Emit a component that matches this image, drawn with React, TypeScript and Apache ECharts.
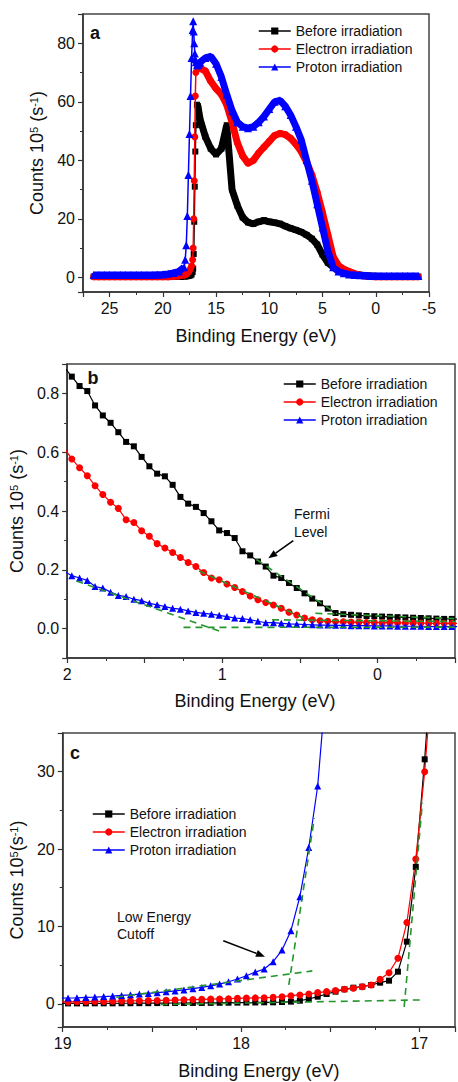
import React, { useEffect, useRef } from 'react';
import * as echarts from 'echarts';

const FONT = '"Liberation Sans", Arial, Helvetica, sans-serif';
const NAMES = ['Before irradiation', 'Electron irradiation', 'Proton irradiation'];
const COLORS = ['#000000', '#ff0000', '#0000ff'];
const SYMBOLS = ['rect', 'circle', 'triangle'];
const GREEN = '#23952a';

// ---------- Panel a : full spectrum ----------
const energyA = [26.5, 26, 25.5, 25, 24.5, 24, 23.5, 23, 22.5, 22, 21.5, 21, 20.5, 20, 19.5, 19, 18.5,
  18, 17.9, 17.8, 17.7, 17.6, 17.5, 17.4, 17.3, 17.2, 17.15, 17.1, 17.05, 17, 16.95, 16.9, 16.8, 16.7, 16.6, 16.5,
  16, 15.5, 15, 14.5, 14, 13.5, 13, 12.5, 12, 11.5, 11, 10.5, 10, 9.5, 9, 8.5, 8, 7.5, 7, 6.5, 6, 5.5, 5, 4.5, 4,
  3.5, 3, 2.5, 2, 1.5, 1, 0.5, 0, -0.5, -1, -1.5, -2, -2.5, -3, -3.5, -4];
const beforeA = [0.3, 0.3, 0.3, 0.3, 0.3, 0.3, 0.3, 0.3, 0.3, 0.3, 0.3, 0.3, 0.3, 0.3, 0.3, 0.3, 0.3,
  0.3, 0.3, 0.4, 0.4, 0.5, 0.6, 0.7, 1.0, 1.8, 3, 8, 19, 31, 43, 52, 59, 58.5, 56, 54,
  48, 44, 42, 44, 52, 30, 24.5, 20.5, 18.8, 18.3, 19, 19.5, 19, 18.7, 18.3, 17.5, 16.8, 16.2, 15.5, 14.5, 13.2,
  11.2, 7.8, 5, 3.5, 2.8, 2.2, 1.6, 1.1, 0.8, 0.6, 0.5, 0.4, 0.3, 0.3, 0.3, 0.3, 0.3, 0.3, 0.3, 0.3];
const electronA = [0.2, 0.2, 0.2, 0.2, 0.2, 0.2, 0.2, 0.2, 0.2, 0.2, 0.2, 0.2, 0.2, 0.2, 0.2, 0.3, 0.5,
  0.8, 0.9, 1.1, 1.4, 1.8, 2.3, 3, 4, 6, 10, 20, 33, 48, 62, 70, 73, 72.5, 72, 71.5,
  70.5, 67, 64.5, 62.5, 59, 53, 46, 41.5, 39, 40, 42.5, 44.5, 46.5, 48.5, 49.2, 48.8, 47.5, 45.5, 43, 39.5, 35,
  29, 22, 14.5, 7, 4, 2.8, 2, 1.3, 0.8, 0.5, 0.3, 0.2, 0.2, 0.2, 0.2, 0.2, 0.2, 0.2, 0.2, 0.2];
const protonA = [0.8, 0.8, 0.8, 0.8, 0.8, 0.8, 0.8, 0.8, 0.8, 0.8, 0.8, 0.8, 0.9, 1.0, 1.2, 1.5, 2.0,
  3.5, 6, 11, 21, 35, 49, 62, 75, 84.5, 87.5, 84, 80, 76.5, 74.5, 73.5, 72.5, 72.5, 73, 73.5,
  75, 75.5, 73, 68.5, 62.5, 57, 53, 51.5, 51, 51.5, 53, 55, 57.5, 60, 60.5, 58.5, 55.5, 51.5, 47, 40, 33,
  25, 17, 9, 3.5, 2, 1.4, 1.0, 0.8, 0.7, 0.6, 0.5, 0.5, 0.5, 0.5, 0.5, 0.5, 0.5, 0.5, 0.5, 0.5];

// ---------- Panel b : Fermi level region ----------
const energyB = [2.02, 1.97, 1.92, 1.87, 1.82, 1.77, 1.72, 1.67, 1.62, 1.57, 1.52, 1.47, 1.42, 1.37, 1.32, 1.27,
  1.22, 1.17, 1.12, 1.07, 1.02, 0.97, 0.92, 0.87, 0.82, 0.77, 0.72, 0.67, 0.62, 0.57, 0.52, 0.47, 0.42, 0.37,
  0.32, 0.27, 0.22, 0.17, 0.12, 0.07, 0.02, -0.03, -0.08, -0.13, -0.18, -0.23, -0.28, -0.33, -0.38, -0.43, -0.48, -0.53];
const beforeB = [0.89, 0.857, 0.825, 0.808, 0.759, 0.725, 0.7, 0.668, 0.635, 0.62, 0.584, 0.552, 0.527, 0.518, 0.489,
  0.448, 0.425, 0.414, 0.393, 0.365, 0.334, 0.325, 0.308, 0.263, 0.249, 0.228, 0.211, 0.18, 0.172, 0.155, 0.138,
  0.12, 0.102, 0.086, 0.068, 0.053, 0.049, 0.047, 0.045, 0.043, 0.042, 0.041, 0.04, 0.039, 0.038, 0.037, 0.036,
  0.035, 0.034, 0.033, 0.033, 0.032];
const electronB = [0.615, 0.577, 0.547, 0.52, 0.486, 0.456, 0.43, 0.409, 0.37, 0.361, 0.333, 0.314, 0.289, 0.274,
  0.259, 0.242, 0.225, 0.211, 0.191, 0.172, 0.166, 0.152, 0.14, 0.126, 0.111, 0.098, 0.089, 0.08, 0.069, 0.056,
  0.046, 0.036, 0.03, 0.027, 0.025, 0.024, 0.023, 0.022, 0.022, 0.021, 0.021, 0.02, 0.02, 0.02, 0.019, 0.019,
  0.019, 0.018, 0.018, 0.018, 0.018, 0.018];
const protonB = [0.195, 0.18, 0.172, 0.164, 0.143, 0.138, 0.124, 0.113, 0.109, 0.1, 0.095, 0.086, 0.081, 0.075,
  0.069, 0.066, 0.06, 0.055, 0.052, 0.049, 0.045, 0.041, 0.036, 0.034, 0.03, 0.025, 0.02, 0.02, 0.018, 0.016,
  0.015, 0.014, 0.013, 0.012, 0.012, 0.011, 0.011, 0.01, 0.01, 0.01, 0.009, 0.009, 0.009, 0.008, 0.008, 0.008,
  0.008, 0.007, 0.007, 0.007, 0.007, 0.007];
// dashed linear fits [E, counts]
const fitsB = [
  [[1.94, 0.162], [1.01, -0.01]],
  [[1.25, 0.004], [-0.5, 0.005]],
  [[1.15, 0.196], [0.44, 0.028]],
  [[0.68, 0.03], [-0.5, 0.024]],
  [[0.78, 0.235], [0.26, 0.05]],
  [[0.4, 0.052], [-0.5, 0.034]],
];

// ---------- Panel c : low energy cutoff region ----------
const energyC = [19.02, 18.97, 18.92, 18.87, 18.82, 18.77, 18.72, 18.67, 18.62, 18.57, 18.52, 18.47, 18.42, 18.37,
  18.32, 18.27, 18.22, 18.17, 18.12, 18.07, 18.02, 17.97, 17.92, 17.87, 17.82, 17.77, 17.72, 17.67, 17.62, 17.57,
  17.52, 17.47, 17.42, 17.37, 17.32, 17.27, 17.22, 17.17, 17.12, 17.07, 17.02, 16.97, 16.92, 16.87, 16.82];
const beforeC = [0.05, 0.05, 0.05, 0.05, 0.06, 0.06, 0.06, 0.07, 0.07, 0.08, 0.08, 0.09, 0.09, 0.1, 0.1, 0.11, 0.11,
  0.12, 0.13, 0.14, 0.15, 0.16, 0.17, 0.19, 0.19, 0.23, 0.28, 0.4, 0.62, 0.92, 1.27, 1.57, 1.87, 2.08, 2.21, 2.43,
  2.73, 2.99, 4.15, 8.03, 17.7, 31.6, 48, null, null];
const electronC = [0.24, 0.25, 0.27, 0.28, 0.3, 0.31, 0.33, 0.35, 0.37, 0.39, 0.41, 0.43, 0.45, 0.48, 0.51, 0.54,
  0.57, 0.6, 0.63, 0.66, 0.7, 0.73, 0.76, 0.79, 0.83, 0.92, 1.05, 1.14, 1.27, 1.44, 1.57, 1.7, 1.87, 2.0, 2.21,
  2.43, 3.16, 4.02, 5.88, 10.5, 18.7, 30.0, 45, null, null];
const protonC = [0.72, 0.75, 0.77, 0.82, 0.87, 0.93, 1.0, 1.08, 1.16, 1.25, 1.34, 1.44, 1.55, 1.66, 1.79, 1.95,
  2.12, 2.32, 2.55, 2.85, 3.2, 3.63, 4.1, 4.5, 5.44, 6.95, 9.45, 13.85, 20.2, 28.15, 42,
  null, null, null, null, null, null, null, null, null, null, null, null, null, null];
const fitsC = [
  [[18.7, 0.85], [17.6, 4.25]],
  [[17.732, 2.43], [17.589, 24.0]],
  [[18.45, -0.1], [16.99, 0.5]],
  [[17.085, -0.4], [16.983, 26]],
];

const pairs = (xs: number[], ys: (number | null)[]) =>
  xs.map((x, i) => [x, ys[i] === null ? '-' : ys[i]]);

const labelEvery = (step: number, digits: number) => (v: number) => {
  const r = v / step;
  return Math.abs(r - Math.round(r)) < 1e-6 ? (Math.abs(v) < 1e-9 ? 0 : v).toFixed(digits) : '';
};

const axisStyle = {
  axisLine: { show: true, onZero: false, lineStyle: { color: '#333', width: 1.5 } },
  axisTick: { show: true, length: 5, lineStyle: { color: '#333', width: 1.2 } },
  minorTick: { show: true, splitNumber: 2, length: 3, lineStyle: { color: '#333', width: 1 } },
  splitLine: { show: false },
  minorSplitLine: { show: false },
};

const nameStyle = (extra: any = {}) => ({
  fontSize: 18, fontFamily: FONT, color: '#111',
  rich: { sup: { fontSize: 11, fontFamily: FONT, color: '#111', verticalAlign: 'top' } },
  ...extra,
});

const labelStyle = (fmt: any, margin = 8) => ({ fontSize: 16, fontFamily: FONT, color: '#111', margin, formatter: fmt });

function xAxisDef(grid: number, min: number, max: number, step: number, digits: number, gap: number, pad?: number[]) {
  return {
    type: 'value', gridIndex: grid, min, max, inverse: true,
    name: 'Binding Energy (eV)', nameLocation: 'middle', nameGap: gap,
    nameTextStyle: nameStyle(pad ? { padding: pad } : {}),
    axisLabel: labelStyle(labelEvery(step, digits)),
    ...axisStyle,
  };
}
function yAxisDef(grid: number, min: number, max: number, step: number, digits: number, gap: number, name: string) {
  return {
    type: 'value', gridIndex: grid, min, max,
    name, nameLocation: 'middle', nameGap: gap,
    nameTextStyle: nameStyle(),
    axisLabel: labelStyle(labelEvery(step, digits)),
    ...axisStyle,
  };
}

function arrow(x1: number, y1: number, x2: number, y2: number) {
  const dx = x2 - x1, dy = y2 - y1;
  const L = Math.hypot(dx, dy);
  const ux = dx / L, uy = dy / L;
  const hl = 9, hw = 3.6;
  const bx = x2 - ux * hl, by = y2 - uy * hl;
  return [
    { type: 'line', silent: true, shape: { x1, y1, x2: bx, y2: by }, style: { stroke: '#000', lineWidth: 1.6 } },
    { type: 'polygon', silent: true, shape: { points: [[x2, y2], [bx - uy * hw, by + ux * hw], [bx + uy * hw, by - ux * hw]] }, style: { fill: '#000' } },
  ];
}

function textEl(x: number, y: number, text: string, size: number, bold: boolean, lh?: number, align = 'center', va = 'middle') {
  return {
    type: 'text', x, y, silent: true,
    style: {
      text, fill: '#111', fontSize: size, fontWeight: bold ? 'bold' : 'normal', fontFamily: FONT,
      lineHeight: lh, align, verticalAlign: va, textAlign: align, textVerticalAlign: va,
    },
  };
}

function legendDef(left: number, top: number) {
  return {
    data: NAMES, left, top, orient: 'vertical', itemWidth: 32, itemHeight: 9, itemGap: 2, padding: 0,
    selectedMode: false,
    textStyle: { fontSize: 14, fontFamily: FONT, color: '#111', lineHeight: 16 },
    lineStyle: { width: 1.5 },
  };
}

export default function App() {
  const ref = useRef<HTMLDivElement>(null);
  useEffect(() => {
    if (!ref.current) return;
    const chart = echarts.init(ref.current, undefined, { renderer: 'svg' });

    const series: any[] = [];
    const valsA = [beforeA, electronA, protonA];
    valsA.forEach((vals, s) => {
      // dense marker band (plateau regions)
      series.push({
        name: 'band-' + s, type: 'line', xAxisIndex: 0, yAxisIndex: 0, silent: true,
        showSymbol: false, symbol: 'none',
        lineStyle: { color: COLORS[s], width: 7 },
        data: energyA.map((e, i) => [e, i > 17 && i < 32 ? '-' : vals[i]]),
        z: 2 + s * 2,
      });
      series.push({
        name: NAMES[s], type: 'line', xAxisIndex: 0, yAxisIndex: 0, silent: true,
        symbol: SYMBOLS[s], symbolSize: s === 0 ? 6 : s === 1 ? 7 : 8, showSymbol: true,
        itemStyle: { color: COLORS[s] },
        lineStyle: { color: COLORS[s], width: 1.5 },
        data: pairs(energyA, vals),
        z: 3 + s * 2,
      });
    });
    [beforeB, electronB, protonB].forEach((vals, s) => {
      series.push({
        name: NAMES[s], type: 'line', xAxisIndex: 1, yAxisIndex: 1, silent: true,
        symbol: SYMBOLS[s], symbolSize: s === 0 ? 6 : 7, showSymbol: true,
        itemStyle: { color: COLORS[s] },
        lineStyle: { color: COLORS[s], width: 1.2 },
        data: pairs(energyB, vals),
      });
    });
    fitsB.forEach((f, k) => {
      series.push({
        name: 'fitB-' + k, type: 'line', xAxisIndex: 1, yAxisIndex: 1, silent: true, symbol: 'none',
        lineStyle: { color: GREEN, width: 1.6, type: [7, 5] }, data: f, z: 5,
      });
    });
    [beforeC, electronC, protonC].forEach((vals, s) => {
      series.push({
        name: NAMES[s], type: 'line', xAxisIndex: 2, yAxisIndex: 2, silent: true,
        symbol: SYMBOLS[s], symbolSize: s === 0 ? 6 : 7, showSymbol: true,
        itemStyle: { color: COLORS[s] },
        lineStyle: { color: COLORS[s], width: 1.2 },
        data: pairs(energyC, vals),
      });
    });
    fitsC.forEach((f, k) => {
      series.push({
        name: 'fitC-' + k, type: 'line', xAxisIndex: 2, yAxisIndex: 2, silent: true, symbol: 'none',
        lineStyle: { color: GREEN, width: 1.6, type: [7, 5] }, data: f, z: 5,
      });
    });

    const gridStyle = { show: true, borderColor: '#444', borderWidth: 1.5, backgroundColor: 'transparent', containLabel: false };

    const option: any = {
      animation: false,
      backgroundColor: '#ffffff',
      textStyle: { fontFamily: FONT },
      grid: [
        { left: 83, top: 14, width: 346, height: 278, ...gridStyle },
        { left: 63, top: 364, width: 397, height: 294, ...gridStyle },
        { left: 61, top: 733, width: 396, height: 294, ...gridStyle },
      ],
      xAxis: [
        xAxisDef(0, -5, 27.5, 5, 0, 35),
        xAxisDef(1, -0.5, 2, 1, 0, 34, [0, 12, 0, 0]),
        xAxisDef(2, 16.8, 19, 1, 0, 35),
      ],
      yAxis: [
        yAxisDef(0, -5, 90, 20, 0, 31, 'Counts 10{sup|5} (s{sup|-1})'),
        yAxisDef(1, -0.1, 0.9, 0.2, 1, 37, 'Counts 10{sup|5} (s{sup|-1})'),
        yAxisDef(2, -3, 35, 10, 0, 32, 'Counts 10{sup|5}(s{sup|-1})'),
      ],
      legend: [legendDef(258, 23), legendDef(283, 376), legendDef(92, 806)],
      graphic: [
        textEl(95, 33, 'a', 18, true),
        textEl(93, 378, 'b', 18, true),
        textEl(75, 753, 'c', 18, true),
        textEl(294, 505, 'Fermi\nLevel', 14, false, 18, 'left', 'top'),
        textEl(117, 908, 'Low Energy\nCutoff', 14, false, 17, 'left', 'top'),
        ...arrow(293.3, 540.7, 268.3, 558.3),
        ...arrow(223.3, 940.7, 265, 956.7),
      ],
      series,
    };
    chart.setOption(option);
    return () => chart.dispose();
  }, []);
  return <div ref={ref} style={{ position: 'absolute', left: 0, top: 0, width: 458, height: 1082 }} />;
}
